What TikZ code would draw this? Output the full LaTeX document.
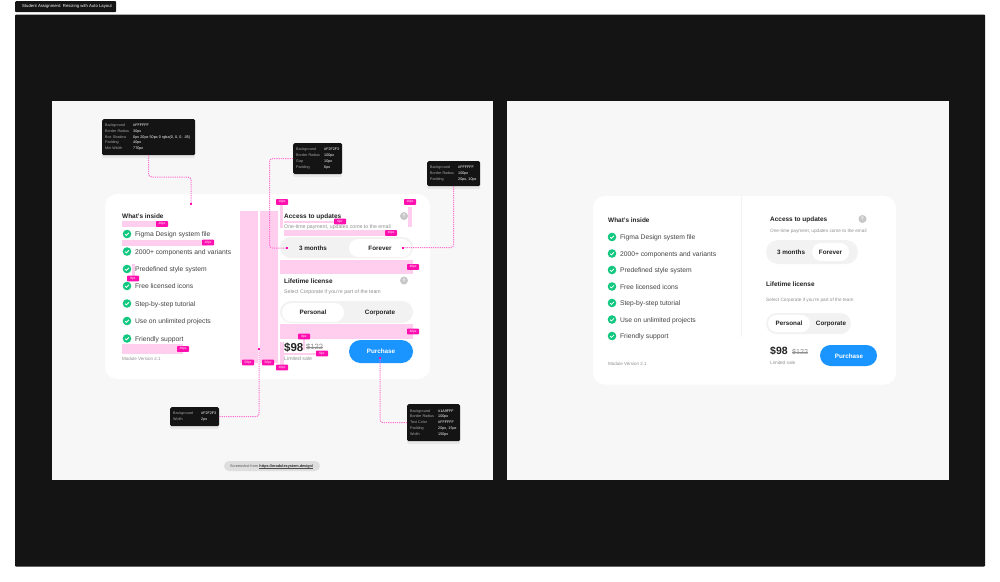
\documentclass[tikz,border=0pt]{standalone}
\usepackage{fontspec}
\setmainfont{Liberation Sans}
\usetikzlibrary{calc,shadows}
\definecolor{frameblack}{HTML}{141414}
\definecolor{panelgrey}{HTML}{F7F7F7}
\definecolor{togglegrey}{HTML}{F2F2F3}
\definecolor{pinkarea}{HTML}{FFCDEE}
\definecolor{pinktag}{HTML}{FF0FAF}
\definecolor{pinkline}{HTML}{FF70D0}
\definecolor{checkgreen}{HTML}{12C77F}
\definecolor{buybtn}{HTML}{1A94FF}
\definecolor{notegrey}{HTML}{A8A8A8}
\definecolor{softgrey}{HTML}{8F8F8F}
\definecolor{inktext}{HTML}{222222}
\newcommand{\nr}[2]{\makebox[28pt][l]{\textcolor{notegrey}{#1}}\textcolor{white}{#2}}
\tikzset{
  note/.style={fill=frameblack,rounded corners=1.5pt,anchor=north west,inner xsep=3pt,inner ysep=0pt,align=left,font=\fontsize{3.7}{5.8}\selectfont,drop shadow={shadow xshift=0pt,shadow yshift=-3pt,opacity=.12}},
  lnk/.style={pinkline,line width=1pt,dash pattern=on 1.2pt off 1pt,rounded corners=3pt},
  endpt/.style={fill=pinktag,minimum size=2pt,inner sep=0pt},
  area/.style={fill=pinkarea},
  tag/.style={fill=pinktag,text=white,rounded corners=.6pt,inner sep=0pt,minimum width=12pt,minimum height=5.6pt,font=\fontsize{3.2}{3.2}\selectfont},
  txt/.style={anchor=west,inner sep=0pt,text height=.72em,text depth=.2em},
  head/.style={txt,text=inktext,font=\fontsize{6.45}{7}\selectfont\bfseries},
  item/.style={txt,text=inktext!85,font=\fontsize{6.75}{7}\selectfont},
  sub/.style={txt,text=softgrey,font=\fontsize{5.2}{5}\selectfont},
  subr/.style={txt,text=softgrey,font=\fontsize{4.7}{5}\selectfont},
  btn/.style={text=inktext,inner sep=0pt,font=\fontsize{6.3}{7}\selectfont\bfseries},
  chk/.style={circle,fill=checkgreen,minimum size=8.6pt,inner sep=0pt},
  hlp/.style={circle,fill=black!22,text=white,minimum size=8pt,inner sep=0pt,font=\fontsize{5}{5}\selectfont\bfseries},
  tick/.style={white,line width=.8pt}
}
\newcommand{\checkrow}[4]{
  \node[chk] (#1c) at (#2,#3) {};
  \draw[tick] ($(#1c)+(-2,.2)$) -- ($(#1c)+(-.6,1.4)$) -- ($(#1c)+(2,-1.2)$);
  \node[item] (#1t) at ($(#1c)+(7.8,0)$) {#4};
}
\begin{document}
\begin{tikzpicture}[x=1pt,y=-1pt]
  \useasboundingbox (0,0) rectangle (1000,581);
  \fill[white] (0,0) rectangle (1000,581);
  \fill[frameblack,rounded corners=1pt] (15,14.5) rectangle (985,566.5);
  \node[fill=frameblack,rounded corners=1pt,anchor=north west,minimum width=101pt,minimum height=11pt,inner sep=0pt] (title) at (15,1) {};
  \node[anchor=west,inner sep=0pt,text=white,font=\fontsize{4.25}{4.5}\selectfont] (titletext) at (22,6.5) {Student Assignment: Resizing with Auto Layout};

  \fill[panelgrey] (52,101) rectangle (492.5,480);
  \fill[panelgrey] (507,101) rectangle (948.5,480);
  \fill[white,rounded corners=12pt] (105,194) rectangle (430,379);
  \fill[white,rounded corners=12pt] (593,196) rectangle (896,384.5);
  \draw[togglegrey,line width=.6pt] (741.5,196) -- (741.5,337);

  \fill[area] (122,221) rectangle (157,227);
  \fill[area] (122,239.5) rectangle (207,246);
  \fill[area] (132,264) rectangle (135,277);
  \fill[area] (122,344) rectangle (183,354);
  \fill[area] (240,210.5) rectangle (258,363);
  \fill[area] (260,210.5) rectangle (278,363);
  \fill[area] (280,205) rectangle (283,228);
  \fill[area] (408,207) rectangle (412,227);
  \fill[area] (284,221) rectangle (335,222.5);
  \fill[area] (284,229.5) rectangle (385,236);
  \fill[area] (280,259.5) rectangle (413,274);
  \fill[area] (280,324) rectangle (413,339);
  \fill[area] (280,342) rectangle (283.5,366);
  \fill[area] (303,339) rectangle (305,350);
  \fill[area] (284,353) rectangle (320,355);

  \node[head] (inside) at (122,215.5) {What's inside};
  \checkrow{a}{127}{234}{Figma Design system file}
  \checkrow{b}{127}{251.5}{2000+ components and variants}
  \checkrow{c}{127}{269}{Predefined style system}
  \checkrow{d}{127}{286}{Free licensed icons}
  \checkrow{e}{127}{303.5}{Step-by-step tutorial}
  \checkrow{f}{127}{321}{Use on unlimited projects}
  \checkrow{g}{127}{338.5}{Friendly support}
  \node[subr,font=\fontsize{4.5}{5}\selectfont] (module) at (122,358) {Module Version 2.1};

  \node[head] (access) at (284,216) {Access to updates};
  \node[hlp] (help1) at (404,216) {?};
  \node[sub] (onetime) at (284,226) {One-time payment, updates come to the email};
  \fill[togglegrey,rounded corners=10.5pt] (280,237) rectangle (413,258);
  \fill[white,rounded corners=9pt] (349,239) rectangle (411,257);
  \node[btn] (months) at (313,248) {3 months};
  \node[btn] (forever) at (380,248) {Forever};

  \node[head] (lifetime) at (284,281) {Lifetime license};
  \node[hlp] (help2) at (404,280.5) {?};
  \node[sub] (select) at (284,291) {Select Corporate if you're part of the team};
  \fill[togglegrey,rounded corners=11pt] (280,301) rectangle (413,323);
  \fill[white,rounded corners=9.5pt] (282,303) rectangle (344,322);
  \node[btn] (personal) at (313,312.5) {Personal};
  \node[btn] (corporate) at (380,312.5) {Corporate};

  \node[txt,text=inktext,font=\fontsize{11.5}{12}\selectfont\bfseries] (price) at (284,348.5) {\$98};
  \node[txt,text=softgrey,font=\fontsize{7.6}{8}\selectfont] (oldprice) at (306,347) {\$122};
  \draw[softgrey,line width=.4pt] (oldprice.west) -- (oldprice.east);
  \node[sub] (limited) at (284,358) {Limited sale};
  \fill[buybtn,rounded corners=11.5pt] (349,340) rectangle (413,363);
  \node[btn,text=white] (purchase) at (381,351.5) {Purchase};

  \node[tag] (t20) at (162,224) {20px};
  \node[tag] (t16a) at (208,242.5) {16px};
  \node[tag] (t8a) at (133,278.5) {8px};
  \node[tag] (t28) at (183,349) {28px};
  \node[tag] (t50a) at (248,362.5) {50px};
  \node[tag] (t50b) at (268,362.5) {50px};
  \node[tag] (t10a) at (282,202) {10px};
  \node[tag] (t10b) at (410,202) {10px};
  \node[tag] (t10c) at (282,367.5) {10px};
  \node[tag] (t6a) at (340,221.5) {6px};
  \node[tag] (t16b) at (391,233) {16px};
  \node[tag] (t40a) at (413,267) {40px};
  \node[tag] (t40b) at (413,331.5) {40px};
  \node[tag] (t8b) at (304,336.5) {8px};
  \node[tag] (t6b) at (322,353.5) {6px};

  \node[note,minimum width=93pt,minimum height=36pt,text width=87pt] (nb1) at (102,119) {\nr{Background}{\#FFFFFF}\\\nr{Border Radius}{30px}\\\nr{Box Shadow}{0px 20px 50px 0 rgba(0, 0, 0, .05)}\\\nr{Padding}{40px}\\\nr{Min Width}{770px}};
  \node[note,minimum width=49pt,minimum height=31pt,text width=43pt] (nb2) at (293,143) {\nr{Background}{\#F2F2F3}\\\nr{Border Radius}{100px}\\\nr{Gap}{10px}\\\nr{Padding}{6px}};
  \node[note,minimum width=53pt,minimum height=25pt,text width=47pt] (nb3) at (427,161) {\nr{Background}{\#FFFFFF}\\\nr{Border Radius}{100px}\\\nr{Padding}{20px, 10px}};
  \node[note,minimum width=49pt,minimum height=19pt,text width=43pt] (nb4) at (170,407) {\nr{Background}{\#F2F2F3}\\\nr{Width}{2px}};
  \node[note,minimum width=53pt,minimum height=37pt,text width=47pt] (nb5) at (407,404) {\nr{Background}{\#1A9FFF}\\\nr{Border Radius}{100px}\\\nr{Text Color}{\#FFFFFF}\\\nr{Padding}{20px, 15px}\\\nr{Width}{150px}};

  \node[endpt] (e1) at (191,204) {};
  \node[endpt] (e2) at (287,248) {};
  \node[endpt] (e3) at (403,247.5) {};
  \node[endpt] (e4) at (259,348.5) {};
  \node[endpt] (e5) at (380,358) {};
  \coordinate (m1) at (170,177);
  \coordinate (m2) at (269.5,200);
  \draw[lnk] (nb1.south) |- (m1) -| (e1);
  \draw[lnk] (nb2.west) -| (m2) |- (e2);
  \draw[lnk] (nb3.south) |- (e3);
  \draw[lnk] (nb4.east) -| (e4);
  \draw[lnk] (nb5.west) -| (e5);

  \node[fill=black!13,rounded corners=5pt,minimum width=96pt,minimum height=10pt,inner sep=0pt] (shot) at (272,466) {};
  \node[txt,text=black!65,font=\fontsize{3.8}{4}\selectfont] (shottext) at (230,465) {Screenshot from};
  \node[txt,text=black!85,font=\fontsize{3.8}{4}\selectfont\bfseries] (shotlink) at ($(shottext.east)+(1,0)$) {https://modulesystem.design/};
  \draw[black!70,line width=.2pt] ($(shotlink.base west)+(0,.6)$) -- ($(shotlink.base east)+(0,.6)$);

  \node[head] (inside2) at (608,219.5) {What's inside};
  \checkrow{p}{612}{237}{Figma Design system file}
  \checkrow{q}{612}{253.5}{2000+ components and variants}
  \checkrow{r}{612}{270}{Predefined style system}
  \checkrow{s}{612}{286.5}{Free licensed icons}
  \checkrow{u}{612}{303}{Step-by-step tutorial}
  \checkrow{v}{612}{319.5}{Use on unlimited projects}
  \checkrow{w}{612}{336}{Friendly support}
  \node[subr,font=\fontsize{4.5}{5}\selectfont] (module2) at (608,363) {Module Version 2.1};

  \node[head] (access2) at (770,219) {Access to updates};
  \node[hlp] (help3) at (862.5,219) {?};
  \node[subr] (onetime2) at (770,230) {One-time payment, updates come to the email};
  \fill[togglegrey,rounded corners=12pt] (766,240) rectangle (858,264);
  \fill[white,rounded corners=9pt] (812,243) rectangle (849,261);
  \node[btn] (months2) at (791,252.5) {3 months};
  \node[btn] (forever2) at (830.5,252.5) {Forever};

  \node[head] (lifetime2) at (766,284) {Lifetime license};
  \node[subr] (select2) at (766,299) {Select Corporate if you're part of the team};
  \fill[togglegrey,rounded corners=10.5pt] (766,313) rectangle (851,334);
  \fill[white,rounded corners=8.5pt] (768,315) rectangle (810,332);
  \node[btn] (personal2) at (789,323.5) {Personal};
  \node[btn] (corporate2) at (831,323.5) {Corporate};

  \node[txt,text=inktext,font=\fontsize{10.5}{11}\selectfont\bfseries] (price2) at (770,351.5) {\$98};
  \node[txt,text=softgrey,font=\fontsize{7.2}{8}\selectfont] (oldprice2) at (792,352) {\$122};
  \draw[softgrey,line width=.4pt] (oldprice2.west) -- (oldprice2.east);
  \node[subr] (limited2) at (770,362) {Limited sale};
  \fill[buybtn,rounded corners=10.5pt] (820,345) rectangle (877,366);
  \node[btn,text=white] (purchase2) at (849,356) {Purchase};
\end{tikzpicture}
\end{document}
